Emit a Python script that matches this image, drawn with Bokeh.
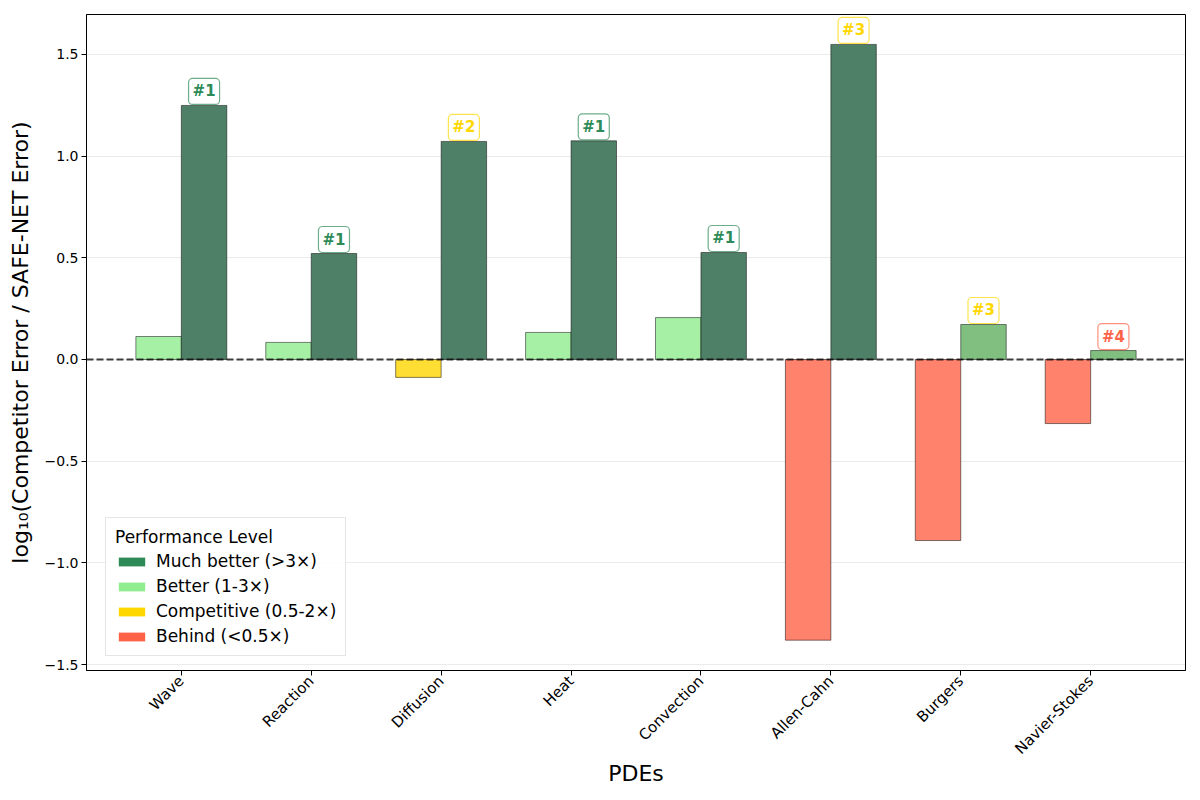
import math
import numpy as np
from bokeh.plotting import figure
from bokeh.models import (ColumnDataSource, Range1d, FixedTicker, Span, Legend, LegendItem)
from bokeh.core.properties import value
from bokeh.embed import file_html
from bokeh.resources import INLINE

# ---- data ----
pdes = ["Wave", "Reaction", "Diffusion", "Heat", "Convection", "Allen-Cahn", "Burgers", "Navier-Stokes"]
second_best = [0.113, 0.084, -0.088, 0.133, 0.206, -1.38, -0.89, -0.315]
best_other = [1.249, 0.521, 1.072, 1.075, 0.526, 1.549, 0.172, 0.044]
ranks = [1, 1, 2, 1, 1, 3, 3, 4]
y_ticks = [-1.5, -1.0, -0.5, 0.0, 0.5, 1.0, 1.5]
y_tick_labels = ["\u22121.5", "\u22121.0", "\u22120.5", "0.0", "0.5", "1.0", "1.5"]
legend_labels = ["Much better (>3\u00d7)", "Better (1-3\u00d7)", "Competitive (0.5-2\u00d7)", "Behind (<0.5\u00d7)"]
legend_colors = ["#2E8B57", "#90EE90", "#FFD700", "#FF6347"]

FONT = "DejaVu Sans"


def left_color(v):
    if v > 0:
        return "#A6F0A6"
    if v > -math.log10(2):
        return "#FFDE33"
    return "#FF826C"


def right_color(v):
    if v > math.log10(3):
        return "#4E8068"
    return "#80BF80"


def rank_color(r):
    if r == 1:
        return "#2E8B57"
    if r <= 3:
        return "#FFD700"
    return "#FF6347"


idx = np.arange(len(pdes))
bw = 0.35
src = ColumnDataSource(dict(
    xl=idx - bw / 2, xr=idx + bw / 2,
    l=second_best, r=best_other,
    lc=[left_color(v) for v in second_best],
    rc=[right_color(v) for v in best_other],
    rank_txt=["#%d" % k for k in ranks],
    rank_col=[rank_color(k) for k in ranks],
))

p = figure(frame_width=1099, frame_height=656, output_backend="svg", toolbar_location=None,
           x_range=Range1d(-0.73, 7.73), y_range=Range1d(-1.529, 1.696),
           min_border_left=86, min_border_right=7, min_border_top=14, min_border_bottom=114)

p.vbar(x="xl", top="l", bottom=0, width=bw, source=src, fill_color="lc",
       line_color="#000000", line_alpha=0.7, line_width=0.7)
p.vbar(x="xr", top="r", bottom=0, width=bw, source=src, fill_color="rc",
       line_color="#000000", line_alpha=0.7, line_width=0.7)

p.add_layout(Span(location=0, dimension="width", line_color="black", line_alpha=0.75,
                  line_width=2.2, line_dash="7 3"))

p.text(x="xr", y="r", text="rank_txt", source=src, text_font=value(FONT),
       text_font_style="bold", text_font_size="15px", text_color="rank_col",
       text_align="center", text_baseline="middle", y_offset=-14,
       background_fill_color="white", border_line_color="rank_col", border_line_alpha=0.7,
       border_line_width=1.2, padding=4, border_radius=4)

# legend proxy
lsrc = ColumnDataSource(dict(x=[np.nan] * 4, top=[np.nan] * 4, c=legend_colors))
proxy = p.vbar(x="x", top="top", width=0.1, source=lsrc, fill_color="c", line_color=None)
legend = Legend(items=[LegendItem(label=lab, renderers=[proxy], index=i) for i, lab in enumerate(legend_labels)],
                location=(19, 14), title="Performance Level", margin=0, padding=9,
                label_text_font=FONT, label_text_font_size="17px", label_text_color="black",
                title_text_font=FONT, title_text_color="black",
                title_text_font_size="17px", title_text_font_style="normal", title_standoff=4,
                glyph_width=33, glyph_height=11, label_height=20, spacing=5, label_standoff=8,
                border_line_color="#cccccc", border_line_width=1, background_fill_alpha=0.9)
p.add_layout(legend)

# axes
p.xaxis.ticker = FixedTicker(ticks=list(idx))
p.xaxis.major_label_overrides = {int(i): n for i, n in zip(idx, pdes)}
p.xaxis.major_label_orientation = math.pi / 4
p.yaxis.ticker = FixedTicker(ticks=y_ticks)
p.yaxis.major_label_overrides = {t: s for t, s in zip(y_ticks, y_tick_labels)}
for ax in (p.xaxis, p.yaxis):
    ax.major_label_text_font = FONT
    ax.major_label_text_font_size = "14px"
    ax.major_label_text_color = "black"
    ax.axis_label_text_font = FONT
    ax.axis_label_text_font_size = "22px"
    ax.axis_label_text_font_style = "normal"
    ax.axis_label_text_color = "black"
    ax.minor_tick_line_color = None
    ax.major_tick_out = 5
    ax.major_tick_in = 0
    ax.axis_line_color = "black"
    ax.major_label_standoff = 3
p.xaxis.major_label_text_font_size = "15px"
p.xaxis.axis_label = "PDEs"
p.yaxis.axis_label = "log\u2081\u2080(Competitor Error / SAFE-NET Error)"
p.yaxis.axis_label_standoff = 9
p.xaxis.axis_label_standoff = -6

p.xgrid.grid_line_color = None
p.ygrid.grid_line_color = "#000000"
p.ygrid.grid_line_alpha = 0.1
p.ygrid.grid_line_width = 0.8
p.outline_line_color = "black"
p.outline_line_width = 1
p.outline_line_alpha = 1

open("out.html", "w").write(file_html(p, INLINE))
